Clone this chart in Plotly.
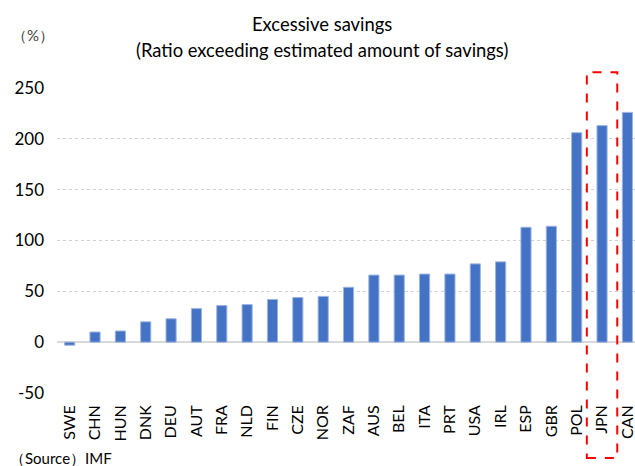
import plotly.graph_objects as go

countries = ["SWE", "CHN", "HUN", "DNK", "DEU", "AUT", "FRA", "NLD", "FIN", "CZE", "NOR", "ZAF",
             "AUS", "BEL", "ITA", "PRT", "USA", "IRL", "ESP", "GBR", "POL", "JPN", "CAN"]
values = [-3, 10, 11, 20, 23, 33, 36, 37, 42, 44, 45, 54,
          66, 66, 67, 67, 77, 79, 113, 114, 206, 213, 226]
y_ticks = [-50, 0, 50, 100, 150, 200, 250]
y_tick_text = ["-50", "0", "50", "100", "150", "200", "250"]

FONT = "Lato, Open Sans, sans-serif"

fig = go.Figure()
fig.add_trace(go.Bar(
    x=list(range(len(countries))), y=values,
    marker=dict(color="#4472C4", line=dict(color="#9DB5E0", width=1)),
    width=0.4,
))

fig.add_shape(type="rect", xref="x", yref="paper",
              x0=20.4, x1=21.6, y0=-0.213, y1=1.052,
              line=dict(color="#FF0000", width=2, dash="dash"))

fig.update_layout(
    width=635, height=466,
    margin=dict(l=57, r=0, t=88, b=73),
    paper_bgcolor="white", plot_bgcolor="white",
    showlegend=False,
    font=dict(family=FONT, color="#262626"),
    xaxis=dict(range=[-0.5, 22.3], tickmode="array",
               tickvals=list(range(len(countries))), ticktext=countries,
               tickangle=-90, tickfont=dict(size=16, color="#000000"),
               ticklabeloverflow="allow", ticklabelstandoff=8,
               showgrid=False, zeroline=False, showline=False, ticks=""),
    yaxis=dict(range=[-50, 250], tickmode="array", tickvals=y_ticks, ticktext=y_tick_text,
               tickfont=dict(size=17, color="#000000"),
               showgrid=True, gridcolor="#D0D0D0", griddash="dot", gridwidth=1,
               zeroline=True, zerolinecolor="#D9D9D9", zerolinewidth=2,
               showline=False, ticks="", ticklabelstandoff=12),
    annotations=[
        dict(text="Excessive savings", xref="paper", yref="paper", x=0.458, y=1.21,
             xanchor="center", yanchor="middle", showarrow=False,
             font=dict(size=18.4, color="#000000", family=FONT)),
        dict(text="(Ratio exceeding estimated amount of savings)", xref="paper", yref="paper",
             x=0.458, y=1.125, xanchor="center", yanchor="middle", showarrow=False,
             font=dict(size=18.4, color="#000000", family=FONT)),
        dict(text="（%）", xref="paper", yref="paper", x=-0.082, y=1.174,
             xanchor="left", yanchor="middle", showarrow=False,
             font=dict(size=15, color="#404040", family=FONT)),
        dict(text="（Source）IMF", xref="paper", yref="paper", x=-0.085, y=-0.213,
             xanchor="left", yanchor="middle", showarrow=False,
             font=dict(size=15, color="#000000", family=FONT)),
    ],
)

fig.write_html("out.html")
